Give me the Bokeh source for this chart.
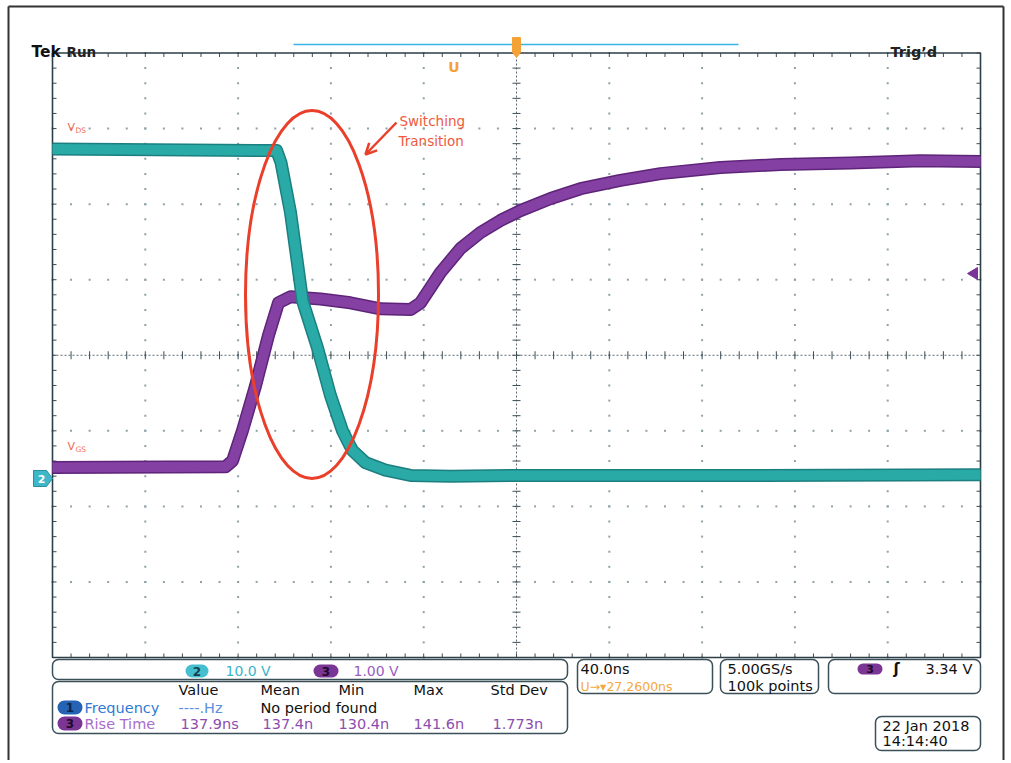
import numpy as np
from bokeh.plotting import figure
from bokeh.models import Label, BoxAnnotation, Arrow, OpenHead
from bokeh.embed import file_html
from bokeh.resources import INLINE

# ---------------- data ----------------
NS_PER_DIV = 40.0            # horizontal scale
CH2_VOLTS_PER_DIV = 10.0     # V_DS (channel 2)
CH3_VOLTS_PER_DIV = 1.0      # V_GS (channel 3)
CH2_GROUND_DIV = -1.631      # ground marker position in divisions
CH3_GROUND_DIV = -1.486

time_vds_ns = [-200, -103.4, -101.5, -97.4, -92.2, -85.8, -80.2, -75.0, -70.7,
               -65.1, -56.5, -45.7, -28.4, 0, 100, 200]
vds_volts = [43.6, 43.4, 41.8, 35.2, 23.5, 17.3, 11.0, 6.3, 3.7,
             2.1, 1.1, 0.4, 0.3, 0.4, 0.4, 0.5]

time_vgs_ns = [-200, -125.4, -122.4, -118.1, -112.5, -106.9, -102.6, -97.4, -84.5,
               -71.6, -58.6, -45.7, -41.4, -32.8, -24.1, -15.5, -6.9, 1.7, 14.7,
               27.6, 44.8, 62.1, 87.9, 113.8, 144.0, 174.1, 200]
vgs_volts = [0.0, 0.01, 0.09, 0.49, 1.08, 1.75, 2.18, 2.26, 2.23,
             2.18, 2.10, 2.09, 2.18, 2.58, 2.90, 3.11, 3.27, 3.40, 3.56,
             3.69, 3.80, 3.89, 3.97, 4.01, 4.03, 4.06, 4.05]

meas_headers = ["Value", "Mean", "Min", "Max", "Std Dev"]
rise_time_stats = ["137.9ns", "137.4n", "130.4n", "141.6n", "1.773n"]

# ---------------- layout helpers ----------------
W, H = 1008, 760
OX, OY = 0, 0
GL, GR, GT, GB = 52.0, 980.0, 52.5, 657.0
PX_NS = (GR - GL) / (10 * NS_PER_DIV)
PX_DIV = (GB - GT) / 8.0
CX = (GL + GR) / 2.0
CY = (GT + GB) / 2.0


def X(px):
    return (px - CX) / PX_NS


def Y(py):
    return (CY - py) / PX_DIV


p = figure(width=W, height=H, x_range=(X(OX), X(OX + W)), y_range=(Y(OY + H), Y(OY)),
           toolbar_location=None, output_backend="svg", x_axis_type=None, y_axis_type=None,
           min_border=0, min_border_left=0, min_border_right=0, min_border_top=0,
           min_border_bottom=0)
p.grid.visible = False
p.outline_line_color = None
p.background_fill_color = "white"
p.border_fill_color = "white"

FONT = "DejaVu Sans"

# outer page border
p.line([X(8), X(8)], [Y(OY + H), Y(6)], line_color="#333333", line_width=2)
p.line([X(8), X(1003)], [Y(6), Y(6)], line_color="#333333", line_width=2)
p.line([X(1003), X(1003)], [Y(6), Y(OY + H)], line_color="#333333", line_width=2)

# ---------------- graticule ----------------
half = 5 * NS_PER_DIV
xs_minor = np.arange(-half, half + 0.01, NS_PER_DIV / 5)
ys_minor = np.arange(-4, 4.001, 0.2)
dot_x, dot_y = [], []
for k in range(-4, 5):
    if k == 0:
        continue
    dot_x += [k * NS_PER_DIV] * len(ys_minor)
    dot_y += list(ys_minor)
for j in range(-3, 4):
    if j == 0:
        continue
    dot_x += list(xs_minor)
    dot_y += [j] * len(xs_minor)
p.scatter(dot_x, dot_y, marker="square", size=2, fill_color="#8da2ab", line_color=None)

# center lines
p.line([-half, half], [0, 0], line_color="#5a6b73", line_width=1, line_dash="2 2")
p.line([0, 0], [-4, 4], line_color="#5a6b73", line_width=1, line_dash="2 2")
tk = 4 / PX_DIV
p.segment(xs_minor, [-tk] * len(xs_minor), xs_minor, [tk] * len(xs_minor),
          line_color="#3b4c54", line_width=1)
tkx = 4 / PX_NS
p.segment([-tkx] * len(ys_minor), ys_minor, [tkx] * len(ys_minor), ys_minor,
          line_color="#3b4c54", line_width=1)

# edge ticks
ei = 4 / PX_DIV
p.segment(xs_minor, [4] * len(xs_minor), xs_minor, [4 - ei] * len(xs_minor),
          line_color="#3b4c54", line_width=1)
p.segment(xs_minor, [-4] * len(xs_minor), xs_minor, [-4 + ei] * len(xs_minor),
          line_color="#3b4c54", line_width=1)
exi = 4 / PX_NS
p.segment([-half] * len(ys_minor), ys_minor, [-half + exi] * len(ys_minor), ys_minor,
          line_color="#3b4c54", line_width=1)
p.segment([half] * len(ys_minor), ys_minor, [half - exi] * len(ys_minor), ys_minor,
          line_color="#3b4c54", line_width=1)
p.quad(left=-half, right=half, bottom=-4, top=4, fill_color=None,
       line_color="#2c3e46", line_width=1.6)

# ---------------- traces ----------------
vgs_div = [v / CH3_VOLTS_PER_DIV + CH3_GROUND_DIV for v in vgs_volts]
vds_div = [v / CH2_VOLTS_PER_DIV + CH2_GROUND_DIV for v in vds_volts]

p.line(time_vgs_ns, vgs_div, line_color="#5e2479", line_width=13, line_join="round")
p.line(time_vgs_ns, vgs_div, line_color="#8540a3", line_width=10, line_join="round")
p.line(time_vds_ns, vds_div, line_color="#1b7f80", line_width=13, line_join="round")
p.line(time_vds_ns, vds_div, line_color="#2aaaa6", line_width=10, line_join="round")

# ---------------- annotation: switching transition ----------------
p.ellipse(x=[X(311.5)], y=[Y(294)], width=[133 / PX_NS], height=[368 / PX_DIV],
          fill_color=None, line_color="#ea3f2a", line_width=3)
p.add_layout(Arrow(end=OpenHead(size=11, line_color="#ea3f2a", line_width=2.5),
                   x_start=X(396), y_start=Y(122), x_end=X(365), y_end=Y(154),
                   line_color="#ea3f2a", line_width=2.5))


def lab(px, py, s, size=14.5, color="#1a1a1a", bold=False, align="left", font=FONT,
        baseline="middle"):
    p.add_layout(Label(x=X(px), y=Y(py), text=s, text_font=font,
                       text_font_size=f"{size}px", text_color=color,
                       text_font_style="bold" if bold else "normal",
                       text_align=align, text_baseline=baseline))


def box(l, r, t, b, radius=6, fill=None, line="#3b4f58", lw=1.5):
    p.add_layout(BoxAnnotation(left=X(l), right=X(r), top=Y(t), bottom=Y(b),
                               border_radius=radius,
                               fill_color=fill if fill else "white",
                               fill_alpha=1.0 if fill else 0.0,
                               line_color=line, line_width=lw if line else 0,
                               line_alpha=1.0 if line else 0.0))


lab(399, 120, "Switching", size=13.5, color="#ef5a3c")
lab(398, 140, "Transition", size=13.5, color="#ef5a3c")

lab(67, 127, "V", size=11, color="#f06a50")
lab(75, 130, "DS", size=7.5, color="#f06a50")
lab(67, 446, "V", size=11, color="#f06a50")
lab(75, 449, "GS", size=7.5, color="#f06a50")

# ---------------- header ----------------
lab(31, 51, "Tek", size=15.5, bold=True, color="#111111", baseline="alphabetic")
lab(66, 51, "Run", size=13.5, bold=True, color="#222222", baseline="alphabetic")
lab(890, 51, "Trig\u2019d", size=14.5, bold=True, color="#222222", baseline="alphabetic")
p.line([X(293), X(738)], [Y(44), Y(44)], line_color="#3ab4e6", line_width=1.5)
p.patch([X(512), X(520), X(520), X(516), X(512)], [Y(37), Y(37), Y(52), Y(57), Y(52)],
        fill_color="#f4a236", line_color="#f4a236", line_width=1)
lab(453.5, 66, "U", size=14, bold=True, color="#f3a233", align="center")

# channel markers
p.patch([X(33), X(46), X(52), X(46), X(33)], [Y(470), Y(470), Y(478), Y(486), Y(486)],
        fill_color="#3eb7c9", line_color="#2a8fa0", line_width=1)
lab(41, 478, "2", size=11, bold=True, color="white", align="center")
p.patch([X(967), X(977), X(977)], [Y(273), Y(267), Y(279)],
        fill_color="#7a3396", line_color="#7a3396")

# ---------------- readout panels ----------------
box(52, 567, 659, 679)
box(52, 567, 681, 733)
box(577, 712, 659, 693)
box(720, 818, 659, 693)
box(828, 980, 659, 693)
box(875, 980, 716, 750)

# channel scales
box(185, 208, 664, 677, radius=7, fill="#45bfcf", line=None)
lab(196.5, 670.5, "2", size=12, bold=True, color="#12424c", align="center")
lab(225, 670.5, "10.0 V", size=14, color="#3ab3c9")
box(313, 338, 664, 677, radius=7, fill="#7b3594", line=None)
lab(325.5, 670.5, "3", size=12, bold=True, color="#1e0a2a", align="center")
lab(353, 670.5, "1.00 V", size=14, color="#9a5cbf")

# measurement table
for xpos, h in zip([178, 260, 338, 413, 490], meas_headers):
    lab(xpos, 689, h, color="#111111")
box(57, 82, 700, 714, radius=7, fill="#2563b5", line=None)
lab(69.5, 707, "1", size=12, bold=True, color="#0d2548", align="center")
lab(84, 707, "Frequency", color="#2f7bd4")
lab(178, 707, "----.Hz", color="#5b8fe0")
lab(260, 707, "No period found", color="#111111")
box(57, 82, 716, 730, radius=7, fill="#7b3594", line=None)
lab(69.5, 723, "3", size=12, bold=True, color="#1e0a2a", align="center")
lab(84, 723, "Rise Time", color="#a86ccb")
for xpos, s in zip([180, 262, 338, 413, 492], rise_time_stats):
    lab(xpos, 723, s, color="#8d4db0")

# timebase
lab(580, 668, "40.0ns", color="#111111")
lab(580, 686, "U\u2192\u25be27.2600ns", size=12.5, color="#f5a83e")
# sample rate
lab(727, 668, "5.00GS/s", color="#111111")
lab(727, 685, "100k points", color="#111111")
# trigger
box(857, 882, 663, 674, radius=6, fill="#7b3594", line=None)
lab(869.5, 668.5, "3", size=11, bold=True, color="#1e0a2a", align="center")
lab(893, 668, "\u0283", size=15, bold=True, color="#111111")
lab(925, 668, "3.34 V", color="#111111")
# date
lab(882, 725, "22 Jan  2018", color="#111111")
lab(882, 740, "14:14:40", color="#111111")

open("out.html", "w").write(file_html(p, INLINE))
